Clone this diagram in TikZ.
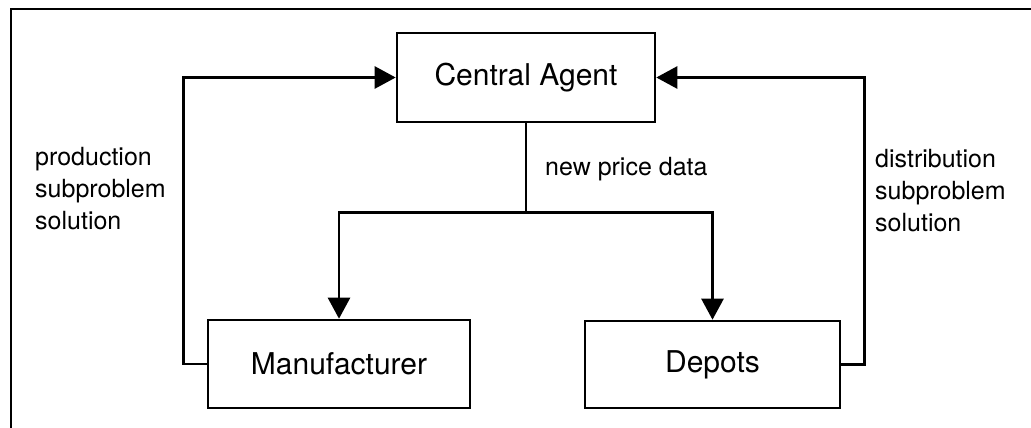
\documentclass[tikz,border=0pt]{standalone}
\usepackage{fontspec}
\setmainfont{TeX Gyre Heros}
\usetikzlibrary{arrows.meta}

\tikzset{
  agentbox/.style={draw, line width=2.6pt, inner sep=0pt,
    font=\fontsize{30}{35}\selectfont},
  flow/.style={line width=2.6pt},
  flowarrow/.style={flow, -{Triangle[length=21pt,width=22pt]}},
  note/.style={inner sep=0pt, align=left,
    font=\fontsize{25}{32}\selectfont},
}

\begin{document}
\begin{tikzpicture}[x=1pt, y=-1pt]
  \useasboundingbox (0,0) rectangle (1031,428);

  % outer frame (top and left edges)
  \draw[line width=2.2pt] (1031,9) -- (11,9) -- (11,428);

  % agents
  \node[agentbox, minimum width=258pt, minimum height=89pt] (central) at (526,77.5) {Central Agent};
  \node[agentbox, minimum width=262pt, minimum height=88pt] (manu) at (339,364) {Manufacturer};
  \node[agentbox, minimum width=255pt, minimum height=87pt] (depots) at (712.5,364.5) {Depots};

  % price data sent down to the subproblems
  \draw[flow] (central.south) -- ++(0,89) coordinate (split);
  \draw[flowarrow] (split) -| (manu.north);
  \draw[flowarrow] (split) -| (depots.north);

  % subproblem solutions returned to the central agent
  \draw[flowarrow] (manu.west) -- ++(-23,0) |- (central.west);
  \draw[flowarrow] (depots.east) -- ++(23,0) |- (central.east);

  % labels (base anchor sits on the last line)
  \node[note, anchor=base west] (pricelbl) at (545,175) {new price data};
  \node[note, anchor=base west] (prodlbl) at (35,229) {production\\subproblem\\solution};
  \node[note, anchor=base west] (distlbl) at (875,231) {distribution\\subproblem\\solution};
\end{tikzpicture}
\end{document}
